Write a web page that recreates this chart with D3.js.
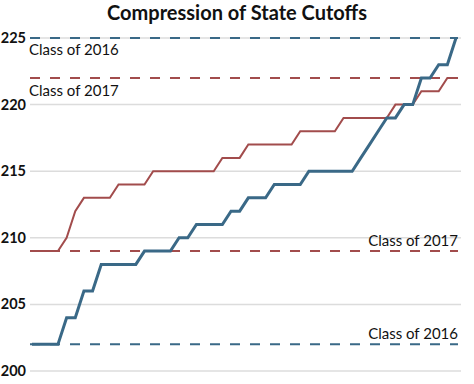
<!DOCTYPE html>
<html>
<head>
<meta charset="utf-8">
<script src="https://cdn.jsdelivr.net/npm/d3@7"></script>
<style>
  body { margin: 0; background: #fff; }
  svg { font-family: Lato, "Open Sans", sans-serif; }
  .title { font-size: 20px; font-weight: 700; fill: #111; }
  .ytick { font-size: 14.5px; font-weight: 700; fill: #111; }
  .grid { stroke: #dcdcdc; stroke-width: 1.5; }
  .lbl { font-size: 15px; fill: #111; }
</style>
</head>
<body>
<svg width="474" height="384"></svg>
<script>
// sorted state cutoffs, one value per state
const class2016 = [202,202,202,202,204,204,206,206,208,208,208,208,208,209,209,209,209,210,210,211,
  211,211,211,212,212,213,213,213,214,214,214,214,215,215,215,215,215,215,216,217,
  218,219,219,220,220,222,222,223,223,225]
const class2017 = [209,209,209,209,210,212,213,213,213,213,214,214,214,214,215,215,215,215,215,215,
  215,215,216,216,216,217,217,217,217,217,217,218,218,218,218,218,219,219,219,219,
  219,219,220,220,220,221,221,221,222,222]
const yTicks = [200, 205, 210, 215, 220, 225]
const blue = "#3a6987"
const red = "#a24c4c"

const svg = d3.select("svg")

const x = d3.scaleLinear()
  .domain([0, class2016.length - 1])
  .range([32, 456])

const y = d3.scaleLinear()
  .domain([200, 225])
  .range([371, 38])

svg.append("text")
  .attr("class", "title")
  .attr("x", 237)
  .attr("y", 20)
  .attr("text-anchor", "middle")
  .text("Compression of State Cutoffs")

svg.selectAll("line.grid")
  .data(yTicks)
  .enter().append("line")
  .attr("class", "grid")
  .attr("x1", 30)
  .attr("x2", 461)
  .attr("y1", d => y(d))
  .attr("y2", d => y(d))

svg.selectAll("text.ytick")
  .data(yTicks)
  .enter().append("text")
  .attr("class", "ytick")
  .attr("x", 26)
  .attr("y", d => y(d))
  .attr("dy", "0.35em")
  .attr("text-anchor", "end")
  .text(d => d)

// max / min reference lines for each class
const refs = [
  {v: d3.max(class2016), color: blue},
  {v: d3.max(class2017), color: red},
  {v: d3.min(class2017), color: red},
  {v: d3.min(class2016), color: blue}
]

svg.selectAll("line.ref")
  .data(refs)
  .enter().append("line")
  .attr("class", "ref")
  .attr("x1", 30)
  .attr("x2", 458)
  .attr("y1", d => y(d.v))
  .attr("y2", d => y(d.v))
  .attr("stroke", d => d.color)
  .attr("stroke-width", 2)
  .attr("stroke-dasharray", "10,10")

const line = d3.line()
  .x((d, i) => x(i))
  .y(d => y(d))

svg.append("path")
  .datum(class2017)
  .attr("d", line)
  .attr("fill", "none")
  .attr("stroke", red)
  .attr("stroke-width", 2)

svg.append("path")
  .datum(class2016)
  .attr("d", line)
  .attr("fill", "none")
  .attr("stroke", blue)
  .attr("stroke-width", 3)

svg.append("text").attr("class", "lbl")
  .attr("x", 29).attr("y", y(d3.max(class2016)) + 17)
  .text("Class of 2016")
svg.append("text").attr("class", "lbl")
  .attr("x", 29).attr("y", y(d3.max(class2017)) + 18)
  .text("Class of 2017")
svg.append("text").attr("class", "lbl")
  .attr("x", 458).attr("y", y(d3.min(class2017)) - 5)
  .attr("text-anchor", "end")
  .text("Class of 2017")
svg.append("text").attr("class", "lbl")
  .attr("x", 458).attr("y", y(d3.min(class2016)) - 5)
  .attr("text-anchor", "end")
  .text("Class of 2016")
</script>
</body>
</html>
